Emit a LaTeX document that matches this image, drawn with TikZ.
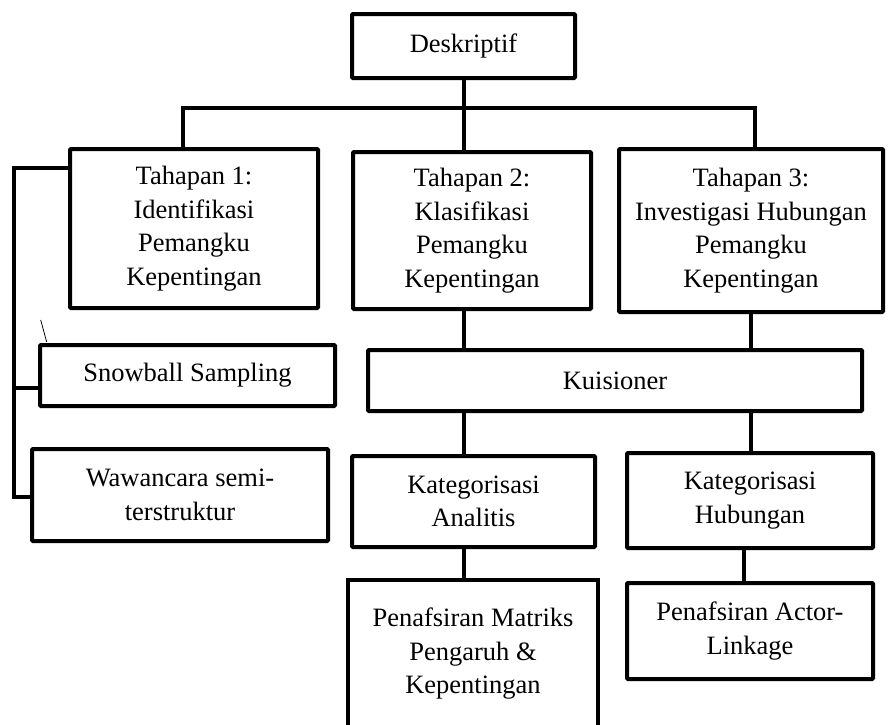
\documentclass[tikz,border=0pt]{standalone}
\usepackage{fontspec}
\setmainfont{Liberation Serif}
\begin{document}
\begin{tikzpicture}[x=1pt,y=-1pt,
  box/.style={draw=black, line width=4pt, fill=white, rounded corners=1pt, align=center,
    inner sep=0pt, font=\fontsize{26.5}{33.5}\selectfont},
  conn/.style={draw=black, line width=4pt, line cap=butt}]
\useasboundingbox (0,0) rectangle (889,724);
\clip (0,0) rectangle (889,724);
\coordinate (bl) at (183,108);
\coordinate (br) at (755,108);
\coordinate (lt) at (14,168);
\coordinate (lb) at (14,497);
\coordinate (ls) at (14,388);
% boxes
\node[box, minimum width=223pt, minimum height=64pt] (desk) at (463.5,46) {Deskriptif};
\node[box, minimum width=248pt, minimum height=159pt] (t1) at (194,228.5) {Tahapan 1:\\Identifikasi\\Pemangku\\Kepentingan};
\node[box, minimum width=238pt, minimum height=157pt] (t2) at (472,230.5) {Tahapan 2:\\Klasifikasi\\Pemangku\\Kepentingan};
\node[box, minimum width=264pt, minimum height=163pt] (t3) at (751,230.5) {Tahapan 3:\\Investigasi Hubungan\\Pemangku\\Kepentingan};
\node[box, minimum width=295pt, minimum height=61pt] (snow) at (187.5,375.5) {Snowball Sampling};
\node[box, minimum width=494pt, minimum height=61pt] (kuis) at (615,380.5) {Kuisioner};
\node[box, minimum width=296pt, minimum height=92pt] (waw) at (180,495) {Wawancara semi-\\terstruktur};
\node[box, minimum width=243pt, minimum height=91pt] (ka) at (473.5,501.5) {Kategorisasi\\Analitis};
\node[box, minimum width=246pt, minimum height=95pt] (kh) at (750,500.5) {Kategorisasi\\Hubungan};
\node[box, draw=none, minimum width=246pt, minimum height=144pt] (pm) at (473,654) {Penafsiran Matriks\\Pengaruh \&\\Kepentingan};
\draw[conn, line join=miter] ([yshift=-20pt]pm.south west) -- (pm.north west) -- (pm.north east) -- ([yshift=-20pt]pm.south east);
\node[box, minimum width=246pt, minimum height=96pt] (pa) at (750,631) {Penafsiran Actor-\\Linkage};
% connectors
\draw[conn] (desk.south) -- (desk.south |- t2.north);
\draw[conn] (t1.north -| bl) -- (bl) -- (br) -- (t3.north -| br);
\draw[conn] (t2.south -| desk.south) -- (kuis.north -| desk.south);
\draw[conn] (kuis.south -| desk.south) -- (ka.north -| desk.south);
\draw[conn] (ka.south -| desk.south) -- (pm.north -| desk.south);
\draw[conn] (t3.south) -- (kuis.north -| t3.south);
\draw[conn] (kuis.south -| t3.south) -- (kh.north -| t3.south);
\draw[conn] (kh.south -| 744,0) -- (pa.north -| 744,0);
\draw[conn] (t1.west |- lt) -- (lt) -- (lb) -- (waw.west |- lb);
\draw[conn] (ls) -- (snow.west |- ls);
\draw[black, line width=0.8pt] (40.7,320) -- (46.7,342);
\end{tikzpicture}
\end{document}
